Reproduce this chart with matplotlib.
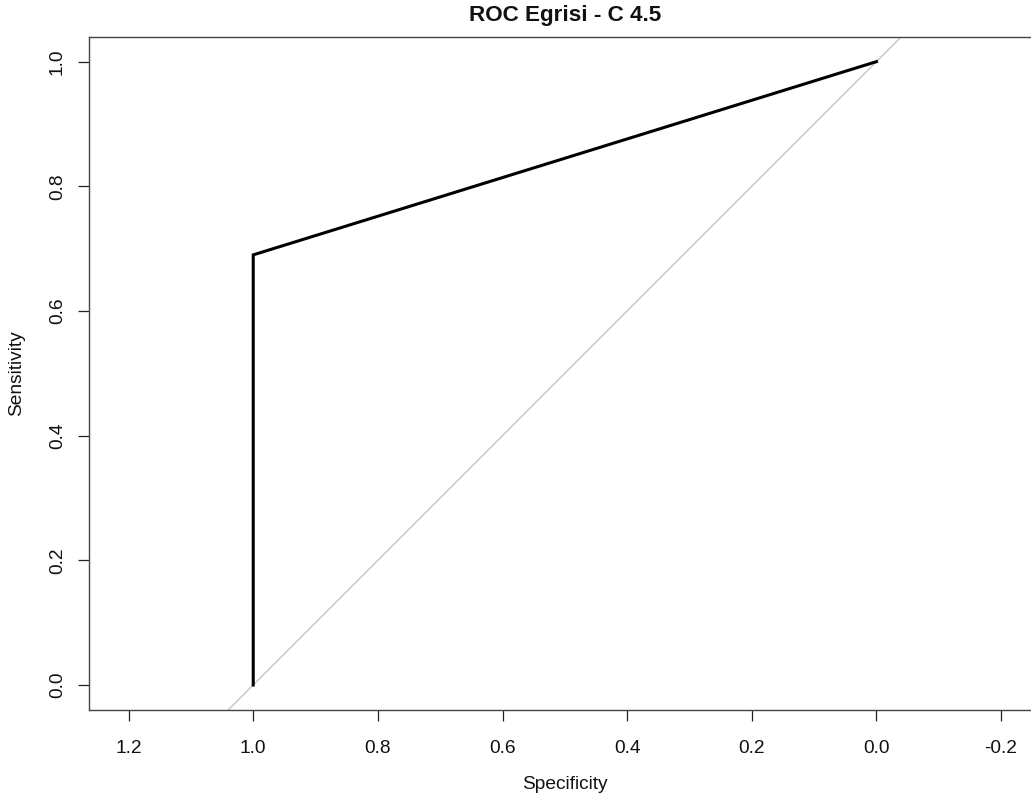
import matplotlib
matplotlib.use("Agg")
import matplotlib.pyplot as plt
import numpy as np

plt.rcParams['font.family'] = ['Liberation Sans', 'DejaVu Sans']

# ROC curve points (specificity, sensitivity)
specificity = [1.0, 1.0, 0.0]
sensitivity = [0.0, 0.69, 1.0]
title = "ROC Egrisi - C 4.5"
xticks = [1.2, 1.0, 0.8, 0.6, 0.4, 0.2, 0.0, -0.2]
yticks = [0.0, 0.2, 0.4, 0.6, 0.8, 1.0]

W, H = 1031, 801
fig = plt.figure(figsize=(W / 100, H / 100), dpi=100)
left_px, right_px, top_px, bottom_px = 88.7, 1041.0, 36.7, 709.9
ax = fig.add_axes([left_px / W, (H - bottom_px) / H,
                   (right_px - left_px) / W, (bottom_px - top_px) / H])

xl = (1.264, -0.264)
yl = (-0.04, 1.04)
ax.set_xlim(*xl)
ax.set_ylim(*yl)

# diagonal reference line
dx = np.array([1.4, -0.4])
ax.plot(dx, 1 - dx, color='#c0c0c0', lw=0.9, zorder=1)

ax.plot(specificity, sensitivity, color='black', lw=2.2, zorder=2,
        solid_joinstyle='miter')

for s in ax.spines.values():
    s.set_color('#444444')
    s.set_linewidth(1.0)

ax.set_xticks(xticks)
ax.set_xticklabels([f"{v:.1f}" for v in xticks])
ax.set_yticks(yticks)
ax.set_yticklabels([f"{v:.1f}" for v in yticks], rotation=90, va='center')
ax.tick_params(axis='both', direction='out', length=8, width=0.9,
               color='#222222', labelsize=13.8, labelcolor='#111111')
ax.tick_params(axis='x', pad=13.5)
ax.tick_params(axis='y', pad=8.5)

ax.set_xlabel("Specificity", fontsize=13.8, labelpad=13.5, color='#111111')
ax.set_ylabel("Sensitivity", fontsize=13.8, labelpad=17, color='#111111')
fig.text((left_px + right_px) / 2 / W, 1 - 15.5 / H, title, ha='center',
         va='center', fontsize=16.2, fontweight='bold', color='#111111')

fig.savefig("out.png", dpi=100)
